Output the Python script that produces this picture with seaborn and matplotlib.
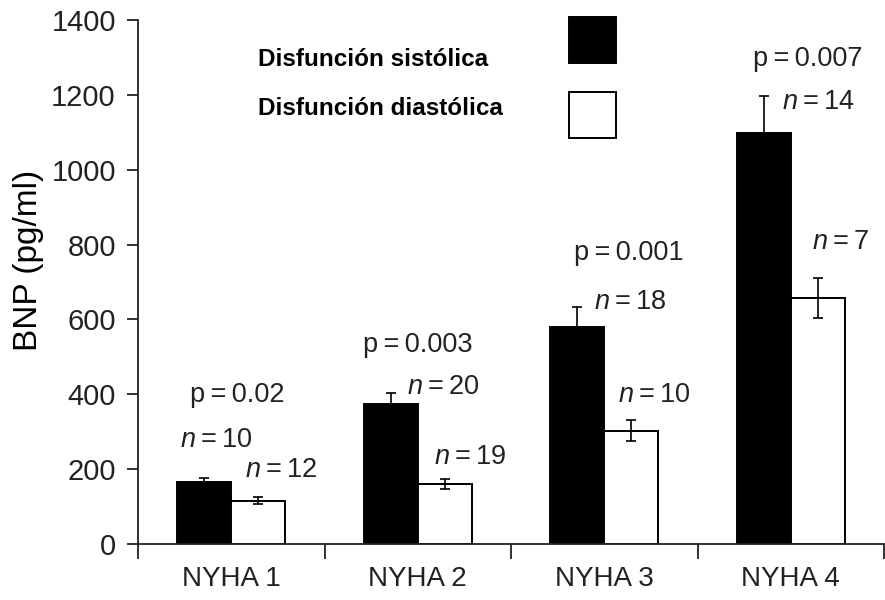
import matplotlib
matplotlib.use("Agg")
import matplotlib.pyplot as plt
from matplotlib.patches import Rectangle
import seaborn as sns
import pandas as pd
import numpy as np

# ---- data ----
categories = ["NYHA 1", "NYHA 2", "NYHA 3", "NYHA 4"]
groups = ["Disfunción sistólica", "Disfunción diastólica"]
bnp_sistolica = [166, 374, 581, 1098]
bnp_diastolica = [116, 160, 303, 657]
err_sistolica = [10, 30, 53, 100]
err_diastolica = [10, 13, 27, 54]
n_sistolica = [10, 20, 18, 14]
n_diastolica = [12, 19, 10, 7]
p_values = ["0.02", "0.003", "0.001", "0.007"]
yticks = [0, 200, 400, 600, 800, 1000, 1200, 1400]

# ---- annotation layout (data coords) ----
p_pos = [(0.03, 398), (1.00, 532), (2.13, 777), (3.09, 1296)]
n_sis_pos = [(-0.08, 278), (1.14, 420), (2.14, 647), (3.15, 1181)]
n_dia_pos = [(0.27, 198), (1.28, 232), (2.27, 398), (3.27, 807)]

sns.set_theme(style="ticks")
plt.rcParams["font.family"] = ["Liberation Sans", "DejaVu Sans"]
plt.rcParams["mathtext.fontset"] = "custom"
plt.rcParams["mathtext.rm"] = "Liberation Sans"
plt.rcParams["mathtext.it"] = "Liberation Sans:italic"

df = pd.DataFrame({
    "cat": categories * 2,
    "grp": [groups[0]] * 4 + [groups[1]] * 4,
    "val": bnp_sistolica + bnp_diastolica,
})

fig = plt.figure(figsize=(8.85, 6.0), dpi=100)
ax = fig.add_axes([138 / 885, 56 / 600, 746 / 885, 524 / 600])

sns.barplot(data=df, x="cat", y="val", hue="grp", order=categories,
            hue_order=groups, palette={groups[0]: "black", groups[1]: "white"},
            width=0.58, edgecolor="black", linewidth=1.4, errorbar=None,
            legend=False, ax=ax, saturation=1)

errs = [err_sistolica, err_diastolica]
for cont, err in zip(ax.containers, errs):
    xs = [b.get_x() + b.get_width() / 2 for b in cont]
    hs = [b.get_height() for b in cont]
    ax.errorbar(xs, hs, yerr=err, fmt="none", ecolor="black",
                elinewidth=1.2, capsize=3.8, capthick=1.2, zorder=3)

ax.set_xlim(-0.5, 3.5)
ax.set_ylim(0, 1400)
ax.set_yticks(yticks)
ax.set_xticks(range(len(categories)))
ax.set_xticklabels(categories)
ax.set_xticks(np.arange(-0.5, 3.6, 1.0), minor=True)

for s in ["top", "right"]:
    ax.spines[s].set_visible(False)
for s in ["left", "bottom"]:
    ax.spines[s].set_linewidth(1.3)
    ax.spines[s].set_color("#222222")

ax.tick_params(axis="y", which="major", direction="out", length=8, width=1.3,
               pad=8, labelsize=21, colors="#222222")
ax.tick_params(axis="x", which="major", length=0, pad=16, labelsize=20,
               colors="#222222")
ax.tick_params(axis="x", which="minor", direction="out", length=11, width=1.3,
               color="#222222")

ax.set_xlabel("")
ax.set_ylabel("BNP (pg/ml)", fontsize=24, color="black", va="center")
ax.yaxis.set_label_coords(-0.147, 0.542)

ts = "\u2009"
txt_kw = dict(fontsize=19.5, color="#222222", ha="center", va="center")
for (x, y), p in zip(p_pos, p_values):
    ax.text(x, y, f"p{ts}={ts}{p}", **txt_kw)
for (x, y), n in zip(n_sis_pos, n_sistolica):
    ax.text(x, y, f"$n$" + f"{ts}={ts}{n}", **txt_kw)
for (x, y), n in zip(n_dia_pos, n_diastolica):
    ax.text(x, y, f"$n$" + f"{ts}={ts}{n}", **txt_kw)

# legend (manual: labels left-aligned, swatches aligned on the right)
leg_y = [0.924, 0.832]
sq_y = [0.918, 0.775]
for yy, lab in zip(leg_y, groups):
    ax.text(0.161, yy, lab, transform=ax.transAxes, fontsize=17.5,
            fontweight="bold", color="black", ha="left", va="center")
for yy, fc in zip(sq_y, ["black", "white"]):
    ax.add_patch(Rectangle((0.578, yy), 0.063, 0.088, transform=ax.transAxes,
                           facecolor=fc, edgecolor="black", linewidth=1.4,
                           clip_on=False))

fig.savefig("out.png", dpi=100)
